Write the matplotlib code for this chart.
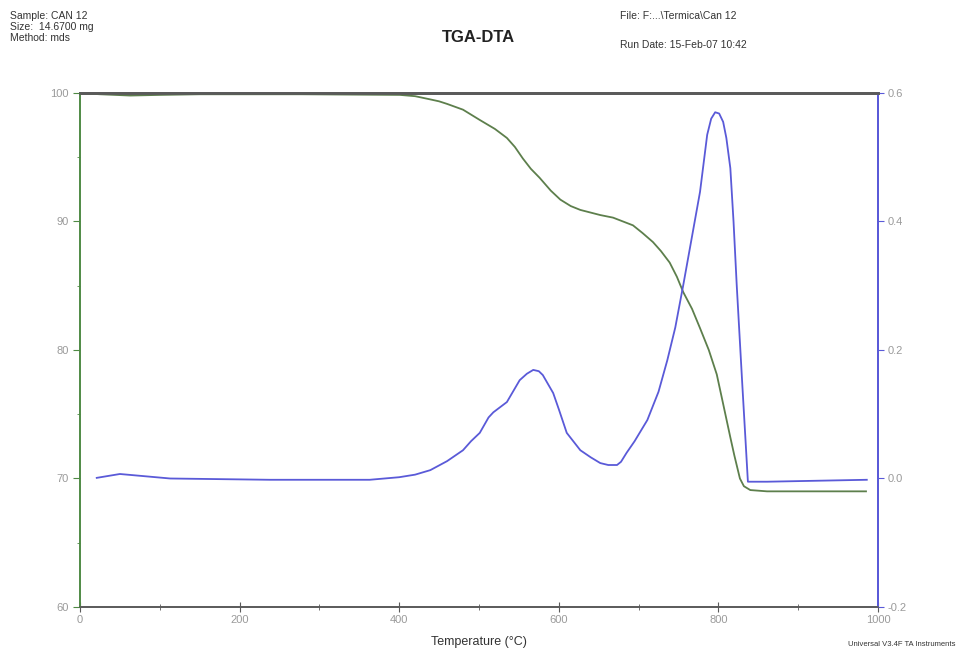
"""
TGA-DTA thermogram of sample CAN 12: weight loss (left axis, green) and
DTA signal (right axis, blue) versus temperature.
"""

import matplotlib
import matplotlib.pyplot as plt
import matplotlib.ticker as ticker

matplotlib.rcParams.update(
    {
        'font.family': ['Liberation Sans', 'DejaVu Sans'],
        'font.size': 8,
    }
)

temp_tga = [0, 25, 63, 100, 150, 276, 401, 420, 439, 450, 460, 480, 501, 520,
            535, 545, 555, 565, 576, 590, 602, 615, 627, 652, 668, 693, 705,
            718, 728, 739, 748, 756, 767, 777, 788, 798, 806, 815, 820, 827,
            832, 840, 861, 985]
weight = [100.0, 99.9, 99.8, 99.85, 99.9, 99.9, 99.85, 99.75, 99.5, 99.35,
          99.15, 98.7, 97.9, 97.2, 96.5, 95.8, 94.9, 94.1, 93.4, 92.4, 91.7,
          91.2, 90.9, 90.5, 90.3, 89.7, 89.1, 88.4, 87.7, 86.8, 85.7, 84.5,
          83.2, 81.7, 80.0, 78.1, 75.8, 73.2, 71.8, 70.0, 69.4, 69.1, 69.0,
          69.0]

temp_dta = [21, 50, 113, 238, 363, 400, 420, 439, 460, 480, 490, 501, 512, 518,
            535, 551, 560, 568, 575, 580, 593, 600, 610, 627, 640, 652, 662,
            673, 678, 685, 695, 711, 725, 736, 746, 756, 766, 777, 786, 791,
            796, 801, 806, 810, 815, 819, 823, 830, 834, 837, 861, 986]
dta = [0.001, 0.007, 0.0, -0.002, -0.002, 0.002, 0.006, 0.013, 0.027, 0.044,
       0.058, 0.071, 0.095, 0.103, 0.119, 0.153, 0.163, 0.169, 0.167, 0.161,
       0.133, 0.108, 0.071, 0.044, 0.033, 0.024, 0.021, 0.021, 0.026, 0.040,
       0.058, 0.091, 0.135, 0.184, 0.235, 0.301, 0.370, 0.446, 0.535, 0.560,
       0.570, 0.568, 0.555, 0.530, 0.483, 0.400, 0.301, 0.146, 0.060, -0.005,
       -0.005, -0.002]

x_ticks = [0, 200, 400, 600, 800, 1000]
left_ticks = [100, 90, 80, 70, 60]
right_ticks = [0.6, 0.4, 0.2, 0.0, -0.2]

GREEN_AX = '#4f8a45'
GREEN_LN = '#5d7f4c'
BLUE = '#5a5ad8'
FRAME = '#5a5a5a'
TICK_TXT = '#9a9a9a'

fig = plt.figure(figsize=(9.59, 6.58), dpi=100)
fig.patch.set_facecolor('white')
ax = fig.add_axes([0.0834, 0.0775, 0.8321, 0.7812])
ax2 = ax.twinx()

ax.plot(temp_tga, weight, color=GREEN_LN, lw=1.3, zorder=3)
ax2.plot(temp_dta, dta, color=BLUE, lw=1.3, zorder=3)

ax.set_xlim(0, 1000)
ax.set_ylim(60, 100)
ax2.set_ylim(-0.2, 0.6)

ax.set_xticks(x_ticks)
ax.xaxis.set_minor_locator(ticker.MultipleLocator(100))
ax.set_yticks(left_ticks)
ax.set_yticklabels([f'{v:g}' for v in left_ticks])
ax.yaxis.set_minor_locator(ticker.MultipleLocator(5))
ax2.set_yticks(right_ticks)
ax2.set_yticklabels([f'{v:.1f}' for v in right_ticks])

for a in (ax, ax2):
    for side in ('top', 'bottom'):
        a.spines[side].set_color(FRAME)
    a.spines['left'].set_color(GREEN_AX)
    a.spines['right'].set_color(BLUE)
    a.spines['top'].set_linewidth(2.0)
    a.spines['bottom'].set_linewidth(1.2)
    a.spines['left'].set_linewidth(1.2)
    a.spines['right'].set_linewidth(1.4)

ax.tick_params(axis='x', which='both', direction='inout', color=FRAME,
               labelcolor=TICK_TXT, labelsize=8, pad=2)
ax.tick_params(axis='x', which='major', length=7)
ax.tick_params(axis='x', which='minor', length=4)
ax.tick_params(axis='y', which='both', direction='out', color=GREEN_AX,
               labelcolor=TICK_TXT, labelsize=8, pad=3)
ax.tick_params(axis='y', which='major', length=5)
ax.tick_params(axis='y', which='minor', length=2)
ax2.tick_params(axis='y', direction='out', length=4, color=BLUE,
                labelcolor=TICK_TXT, labelsize=8, pad=3)

ax.set_xlabel('Temperature (°C)', fontsize=9, color='#333333', labelpad=8)

# ——— Header and footer text ——————————————————————————————————————————————————
hdr = {'fontsize': 7.5, 'color': '#333333', 'va': 'center', 'ha': 'left'}
fig.text(10 / 959, 1 - 16 / 658, 'Sample: CAN 12', **hdr)
fig.text(10 / 959, 1 - 27 / 658, 'Size:  14.6700 mg', **hdr)
fig.text(10 / 959, 1 - 38 / 658, 'Method: mds', **hdr)
fig.text(620 / 959, 1 - 16 / 658, 'File: F:...\\Termica\\Can 12', **hdr)
fig.text(620 / 959, 1 - 45 / 658, 'Run Date: 15-Feb-07 10:42', **hdr)
fig.text(478 / 959, 1 - 37 / 658, 'TGA-DTA', fontsize=12, fontweight='bold',
         color='#222222', ha='center', va='center')
fig.text(955 / 959, 1 - 645 / 658, 'Universal V3.4F TA Instruments',
         fontsize=5.5, color='#333333', ha='right', va='center')

fig.savefig('out.png', dpi=100, facecolor='white')
plt.close(fig)
